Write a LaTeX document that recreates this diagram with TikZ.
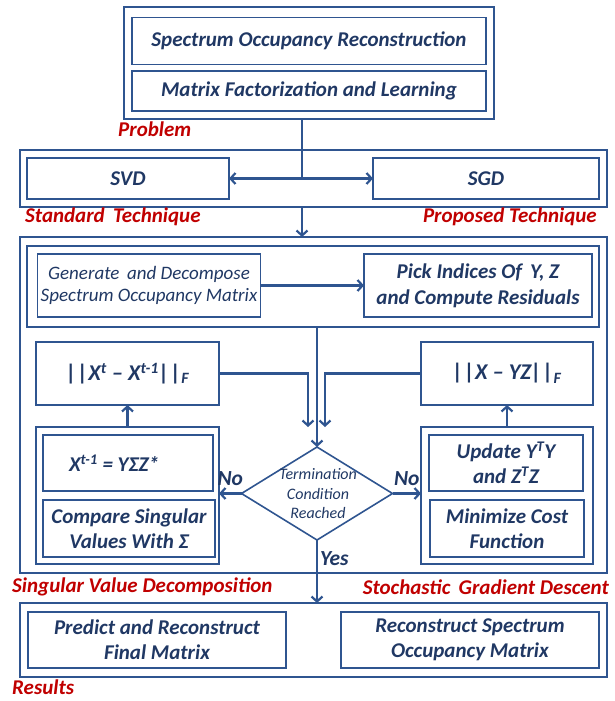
\documentclass[tikz,border=0pt]{standalone}
\usepackage{fontspec}
\setmainfont{Carlito}
\usepackage{tikz}
\usetikzlibrary{arrows.meta,shapes.geometric,calc}
\definecolor{boxblue}{HTML}{2F5590}
\definecolor{txtblue}{HTML}{203864}
\definecolor{labred}{HTML}{C00000}

\begin{document}
\begin{tikzpicture}[x=1pt,y=-1pt,
  frame/.style={draw=boxblue,line width=1.6pt,outer sep=0pt,inner sep=0pt},
  box/.style={frame,align=center,text=txtblue,font=\fontsize{21}{25}\selectfont\bfseries\itshape},
  normbox/.style={box,font=\fontsize{22.5}{25}\selectfont\bfseries\itshape},
  lab/.style={text=labred,font=\fontsize{21}{24}\selectfont\bfseries\itshape,inner sep=0pt},
  tag/.style={text=txtblue,font=\fontsize{21.5}{24}\selectfont\bfseries\itshape,inner sep=1pt},
  arr/.style={draw=boxblue,line width=2.2pt,-{Straight Barb[length=5pt,width=11pt]}}]
\useasboundingbox (0,0) rectangle (614,701);

\node (probOut) at (309,63)[frame,minimum width=370pt,minimum height=112pt] {};
\node (soc) at (309,41)[box,minimum width=354pt,minimum height=47pt] {Spectrum Occupancy Reconstruction};
\node (mfl) at (309,91)[box,minimum width=354pt,minimum height=40pt] {Matrix Factorization and Learning};
\node (probLab) at (118,129)[lab,anchor=west] {Problem};

\node (techOut) at (313.5,178.5)[frame,minimum width=587pt,minimum height=57pt] {};
\node (svd) at (128,178.5)[box,minimum width=202pt,minimum height=41pt] {SVD};
\node (sgd) at (486,178.5)[box,minimum width=226pt,minimum height=41pt] {SGD};
\node (stdLab) at (25,217)[lab,anchor=west] {Standard\, Technique};
\node (propLab) at (597,217)[lab,anchor=east] {Proposed Technique};

\node (algOut) at (313.5,405)[frame,minimum width=587pt,minimum height=336pt] {};
\node (initBox) at (313,286.5)[frame,minimum width=572pt,minimum height=81pt] {};
\node (gen) at (149,285.5)[box,minimum width=223pt,minimum height=63pt,font=\fontsize{19}{22}\selectfont\itshape] {Generate\, and Decompose\\Spectrum Occupancy Matrix};
\node (pick) at (478,285.5)[box,minimum width=228pt,minimum height=63pt,font=\fontsize{21}{26}\selectfont\bfseries\itshape] {Pick Indices Of\, Y, Z\\and Compute Residuals};

\node (normL) at (127.5,373.5)[normbox,minimum width=183pt,minimum height=63pt] {|\kern1pt|X\textsuperscript{t} – X\textsuperscript{t-1}|\kern1pt|\textsubscript{F}};
\node (normR) at (507,373.5)[normbox,minimum width=172pt,minimum height=63pt] {|\kern1pt|X – YZ|\kern1pt|\textsubscript{F}};

\node (svdGrp) at (127.5,495.5)[frame,minimum width=183pt,minimum height=137pt] {};
\node (xeq) at (128,463)[box,minimum width=170pt,minimum height=56pt] {X\textsuperscript{t-1} = YΣZ*\hspace{28pt}};
\node (cmp) at (129,528.5)[box,minimum width=172pt,minimum height=57pt] {Compare Singular\\Values With Σ};

\node (sgdGrp) at (507,495.5)[frame,minimum width=172pt,minimum height=137pt] {};
\node (upd) at (506,463)[box,minimum width=154pt,minimum height=56pt] {Update Y\textsuperscript{T}Y\\and Z\textsuperscript{T}Z};
\node (mini) at (507,528.5)[box,minimum width=154pt,minimum height=57pt] {Minimize Cost\\Function};

\node (dec) at (317,493.5)[diamond,frame,minimum width=151pt,minimum height=93pt] {};
\node (decTxt) at (318,494)[text=txtblue,align=center,font=\fontsize{16}{19.5}\selectfont\itshape,inner sep=0pt] {Termination\\Condition\\Reached};

\node (svdLab) at (12,587)[lab,anchor=west] {Singular Value Decomposition};
\node (sgdLab) at (609,587)[lab,anchor=east] {Stochastic\, Gradient Descent};

\node (resOut) at (313.5,640)[frame,minimum width=587pt,minimum height=74pt] {};
\node (pred) at (157,640)[box,minimum width=258pt,minimum height=56pt] {Predict and Reconstruct\\Final Matrix};
\node (recon) at (470,640)[box,minimum width=258pt,minimum height=56pt] {Reconstruct Spectrum\\Occupancy Matrix};
\node (resLab) at (12,687)[lab,anchor=west] {Results};

\coordinate (split) at (302,178.5);
\coordinate (inL) at (308,427);
\coordinate (inR) at (325,427);

\draw[boxblue,line width=2.2pt] (probOut.south -| split) -- (split);
\draw[arr] (split) -- (svd.east);
\draw[arr] (split) -- (sgd.west);
\draw[arr] (techOut.south -| split) -- (algOut.north -| split);
\draw[arr] (gen.east) -- (pick.west);
\draw[arr] (initBox.south -| dec.north) -- (dec.north);
\draw[arr] (normL.east) -| (inL);
\draw[arr] (normR.west) -| (inR);
\draw[arr] (svdGrp.north) -- (normL.south);
\draw[arr] (sgdGrp.north) -- (normR.south);
\draw[arr] (dec.west) -- (dec.west -| svdGrp.east) node[tag,midway,above=6pt] {No};
\draw[arr] (dec.east) -- (dec.east -| sgdGrp.west) node[tag,midway,above=6pt] {No};
\draw[arr] (dec.south) -- (resOut.north -| dec.south) node[tag,pos=0.3,right=1pt] {Yes};
\end{tikzpicture}
\end{document}
